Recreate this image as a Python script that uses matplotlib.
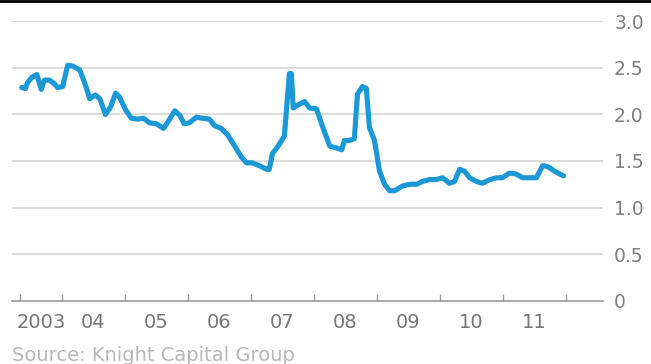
import matplotlib
matplotlib.use("Agg")
import matplotlib.pyplot as plt
from matplotlib.lines import Line2D

# ==========================================
# Data
# ==========================================

years = [
    2003.36, 2003.42, 2003.45, 2003.52, 2003.60, 2003.67, 2003.72, 2003.80,
    2003.88, 2003.93, 2004.01, 2004.09, 2004.17, 2004.28, 2004.36, 2004.44,
    2004.53, 2004.60, 2004.69, 2004.77, 2004.85, 2004.91, 2005.01, 2005.10,
    2005.20, 2005.29, 2005.39, 2005.50, 2005.61, 2005.69, 2005.79, 2005.87,
    2005.94, 2006.02, 2006.13, 2006.23, 2006.34, 2006.42, 2006.53, 2006.63,
    2006.74, 2006.85, 2006.93, 2007.02, 2007.13, 2007.25, 2007.29, 2007.34,
    2007.42, 2007.53, 2007.58, 2007.61, 2007.64, 2007.67, 2007.74, 2007.85,
    2007.93, 2008.04, 2008.13, 2008.25, 2008.36, 2008.44, 2008.48, 2008.56,
    2008.64, 2008.69, 2008.77, 2008.83, 2008.88, 2008.96, 2009.04, 2009.12,
    2009.20, 2009.28, 2009.40, 2009.52, 2009.63, 2009.72, 2009.83, 2009.94,
    2010.04, 2010.15, 2010.23, 2010.31, 2010.39, 2010.47, 2010.58, 2010.67,
    2010.79, 2010.90, 2010.99, 2011.10, 2011.21, 2011.31, 2011.42, 2011.53,
    2011.63, 2011.71, 2011.82, 2011.90, 2011.96,
]

ratio = [
    2.29, 2.28, 2.34, 2.40, 2.43, 2.27, 2.37, 2.37,
    2.33, 2.29, 2.30, 2.53, 2.52, 2.48, 2.34, 2.17,
    2.21, 2.17, 2.00, 2.08, 2.23, 2.19, 2.05, 1.96,
    1.95, 1.96, 1.91, 1.90, 1.85, 1.93, 2.04, 1.99,
    1.90, 1.91, 1.97, 1.96, 1.95, 1.88, 1.85, 1.78,
    1.66, 1.54, 1.48, 1.48, 1.45, 1.41, 1.41, 1.58,
    1.65, 1.77, 2.20, 2.44, 2.44, 2.07, 2.10, 2.14,
    2.07, 2.06, 1.88, 1.66, 1.64, 1.62, 1.72, 1.72,
    1.74, 2.22, 2.30, 2.28, 1.86, 1.72, 1.39, 1.25,
    1.18, 1.18, 1.23, 1.25, 1.25, 1.28, 1.30, 1.30,
    1.32, 1.26, 1.28, 1.41, 1.39, 1.32, 1.28, 1.26,
    1.30, 1.32, 1.32, 1.37, 1.36, 1.32, 1.32, 1.32,
    1.45, 1.44, 1.39, 1.36, 1.34,
]

tick_years = [2003.34, 2004, 2005, 2006, 2007, 2008, 2009, 2010, 2011, 2012]
year_labels = ["2003", "04", "05", "06", "07", "08", "09", "10", "11"]
y_ticks = [0, 0.5, 1.0, 1.5, 2.0, 2.5, 3.0]
y_labels = ["0", "0.5", "1.0", "1.5", "2.0", "2.5", "3.0"]

# ==========================================
# Plot
# ==========================================

plt.rcParams["font.family"] = ["DejaVu Sans"]

W, H = 651, 364
fig = plt.figure(figsize=(W / 100, H / 100), dpi=100)
ax = fig.add_axes([12 / W, 1 - 300.5 / H, (603 - 12) / W, (300.5 - 21.5) / H])

ax.set_xlim(2003.206, 2012.587)
ax.set_ylim(0, 3.0)

# light horizontal grid (0 is the axis line itself)
for v in y_ticks[1:]:
    ax.axhline(v, color="#d6d6d6", linewidth=1.2, zorder=1)

ax.plot(years, ratio, color="#1b98d5", linewidth=3.7,
        solid_joinstyle="round", solid_capstyle="round", zorder=3)

for side in ["top", "right", "left"]:
    ax.spines[side].set_visible(False)
ax.spines["bottom"].set_color("#9a9a9a")
ax.spines["bottom"].set_linewidth(1.2)

# y labels on the right
ax.yaxis.tick_right()
ax.set_yticks(y_ticks)
ax.set_yticklabels(y_labels)
ax.tick_params(axis="y", length=0, pad=8, labelsize=13.5, labelcolor="#808080")

# year boundary ticks, labels centred in each year
ax.set_xticks(tick_years)
ax.set_xticklabels([""] * len(tick_years))
ax.tick_params(axis="x", which="major", direction="in", length=5,
               width=1.0, color="#9a9a9a")
mids = [(tick_years[i] + tick_years[i + 1]) / 2 for i in range(len(year_labels))]
ax.set_xticks(mids, minor=True)
ax.set_xticklabels(year_labels, minor=True)
ax.tick_params(axis="x", which="minor", length=0, pad=9,
               labelsize=14, labelcolor="#767676")

fig.text(12 / W, 1 - 346 / H, "Source: Knight Capital Group", ha="left", va="top",
         fontsize=14, color="#b8b8b8")

# dark border strip along the top edge
fig.add_artist(Line2D([0, 1], [1 - 1.2 / H, 1 - 1.2 / H], color="black",
                      linewidth=2.0, transform=fig.transFigure))

fig.savefig("out.png", dpi=100)
